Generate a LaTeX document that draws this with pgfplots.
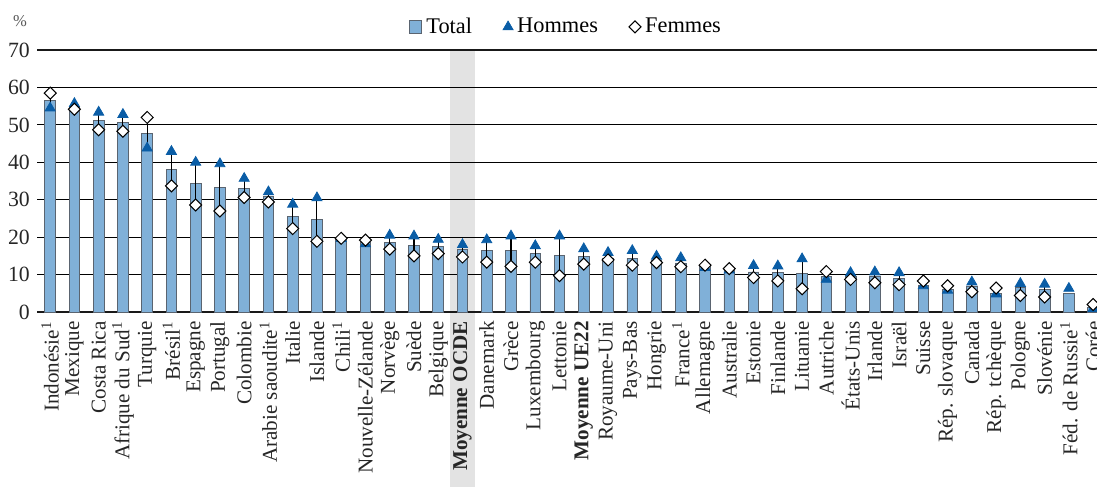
\documentclass[border=0pt]{standalone}
\usepackage{fontspec}
\setmainfont{Liberation Serif}
\usepackage{pgfplots}
\usepackage{pgfplotstable}
\pgfplotsset{compat=1.18}

\definecolor{barfill}{HTML}{80B0D8}
\definecolor{baredge}{HTML}{5A6470}
\definecolor{menblue}{HTML}{0A5DA6}
\definecolor{bandgray}{HTML}{E3E3E3}

% i  total  hommes  femmes
\pgfplotstableread{
i  t     h     f
0  56.6  54.5  58.5
1  55.0  55.7  54.2
2  51.3  53.4  48.7
3  50.6  52.8  48.3
4  47.8  43.8  52.0
5  38.2  42.9  33.7
6  34.4  40.0  28.6
7  33.2  39.6  27.0
8  33.1  35.7  30.6
9  30.8  32.1  29.4
10 25.6  28.8  22.3
11 24.8  30.5  18.9
12 19.7  19.6  19.7
13 18.7  18.2  19.2
14 18.6  20.5  16.8
15 17.7  20.3  15.0
16 17.6  19.4  15.6
17 16.7  18.0  14.7
18 16.5  19.3  13.3
19 16.4  20.3  12.2
20 15.6  17.7  13.3
21 15.1  20.3  9.7
22 14.9  16.9  12.8
23 14.4  15.9  13.9
24 14.3  16.4  12.5
25 13.9  14.9  13.2
26 13.1  14.5  12.1
27 12.1  11.9  12.5
28 11.4  11.2  11.6
29 10.7  12.4  9.2
30 10.6  12.3  8.3
31 10.3  14.2  6.2
32 9.6   8.7   10.8
33 9.6   10.5  8.7
34 9.4   10.7  7.8
35 8.9   10.5  7.3
36 7.1   7.0   8.3
37 6.0   5.8   7.0
38 6.7   8.0   5.4
39 4.9   4.8   6.4
40 6.5   7.6   4.4
41 6.0   7.4   4.0
42 4.9   6.3   nan
43 1.3   0.9   2.0
}\data

\begin{document}
\begin{tikzpicture}
\begin{axis}[
    set layers,
    scale only axis,
    width=512pt, height=126.5pt,
    xmin=-0.54, xmax=43.16,
    ymin=0, ymax=70,
    ytick={0,10,...,70},
    xtick={0,...,43},
    xticklabels={Indonésie\textsuperscript{1},Mexique,Costa Rica,Afrique du Sud\textsuperscript{1},Turquie,Brésil\textsuperscript{1},Espagne,Portugal,Colombie,Arabie saoudite\textsuperscript{1},Italie,Islande,Chili\textsuperscript{1},Nouvelle-Zélande,Norvège,Suède,Belgique,\textbf{Moyenne OCDE},Danemark,Grèce,Luxembourg,Lettonie,\textbf{Moyenne UE22},Royaume-Uni,Pays-Bas,Hongrie,France\textsuperscript{1},Allemagne,Australie,Estonie,Finlande,Lituanie,Autriche,États-Unis,Irlande,Israël,Suisse,Rép. slovaque,Canada,Rép. tchèque,Pologne,Slovénie,Féd. de Russie\textsuperscript{1},Corée},
    x tick label style={rotate=90, anchor=east, font=\fontsize{10.2}{12}\selectfont, text=black!85, xshift=-1pt},
    y tick label style={font=\fontsize{10.5}{12}\selectfont, text=black!85},
    /pgf/number format/assume math mode=true,
    major tick length=0pt,
    ymajorgrids, grid style={black, line width=0.55pt},
    separate axis lines,
    y axis line style={draw=none},
    x axis line style={line width=1.3pt, black!90},
    clip=false,
    legend style={at={(0.5,1)}, anchor=south, yshift=2.5pt, draw=none, fill=none,
        font=\fontsize{10.8}{12}\selectfont, legend columns=3,
        /tikz/every even column/.append style={column sep=13pt}},
    legend cell align=left,
]
\begin{pgfonlayer}{axis background}
\fill[bandgray] (axis cs:16.5,70) rectangle ([yshift=-85pt]axis cs:17.5,0);
\end{pgfonlayer}
\addplot[ybar, bar width=0.44, fill=barfill, draw=baredge, line width=0.4pt,
    legend image code/.code={\draw[fill=barfill, draw=baredge, line width=0.4pt] (0pt,-3pt) rectangle (6pt,3pt);}]
    table[x=i, y=t] {\data};
\addlegendentry{Total}
\addplot[draw=none, mark=none, forget plot,
    error bars/.cd, y dir=both, y explicit, error mark=none,
    error bar style={black, line width=0.5pt}]
    table[x=i, y expr=(\thisrow{h}+\thisrow{f})/2, y error expr=abs(\thisrow{h}-\thisrow{f})/2] {\data};
\addplot[only marks, mark=triangle*, mark size=2.8pt, mark options={fill=menblue, draw=menblue}]
    table[x=i, y=h] {\data};
\addlegendentry{Hommes}
\addplot[only marks, mark=square*, mark size=2.05pt, mark options={rotate=45, fill=white, draw=black, line width=0.5pt}]
    table[x=i, y=f] {\data};
\addlegendentry{Femmes}
\node[font=\fontsize{8}{10}\selectfont, text=black!65] at ([xshift=-8.2pt, yshift=14pt]axis cs:-0.54,70) {\%};
\coordinate (bl) at (rel axis cs:0,0);
\coordinate (tr) at (rel axis cs:1,1);
\end{axis}
\pgfresetboundingbox
\path[use as bounding box] ([xshift=-17.9pt, yshift=-84.5pt]bl) rectangle ([yshift=24.2pt]tr);
\end{tikzpicture}
\end{document}
